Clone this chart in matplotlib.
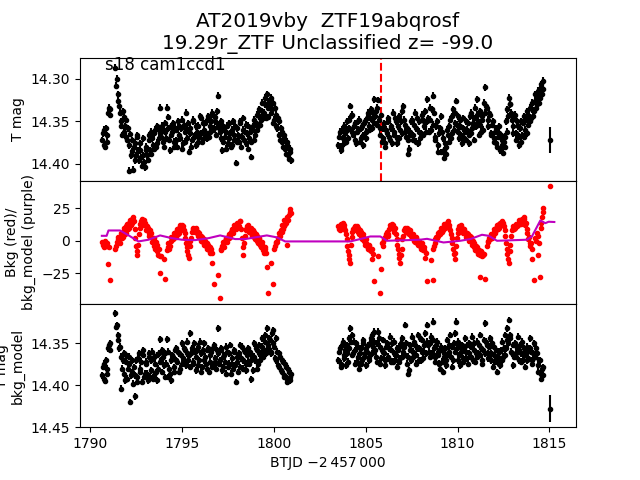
import numpy as np
import matplotlib
matplotlib.use('Agg')
import matplotlib.pyplot as plt

nan = np.nan

# ---- sampling (two TESS orbits; "a" and "b" samples interleaved) ----
CADENCE = 0.08
OFFSET_B = 0.04
seg1_start, seg1_n = 1790.66, 129
seg2_start, seg2_n = 1803.52, 140
last_t = 1815.02

MAG_ZERO = 14.300  # values below are millimag offsets from this

# ---- top panel: T mag (mmag offset from 14.300) ----
top_seg1_a = [
    72, 60, 80, 66, 40, 36, nan, nan, nan, -13,
    0, 18, 40, 55, 38, 62, 48, 72, 108, 65,
    85, 107, 75, 90, 68, 96, 84, 102, 90, 104,
    80, 95, 72, 88, 70, 82, 60, 75, 58, 34,
    68, 55, 80, 62, 34, 45, 84, 66, 52, 74,
    60, 80, 56, 70, 48, 76, 62, 40, 70, 86,
    58, 72, 50, 66, 78, 55, 68, 46, 74, 60,
    52, 70, 44, 62, 50, 40, 58, 45, 38, 20,
    62, 50, 74, 60, 82, 55, 70, 64, 78, 50,
    66, 99, 58, 74, 52, 68, 46, 62, 76, 55,
    70, 92, 60, 48, 66, 42, 56, 36, 48, 28,
    40, 22, 18, 45, 32, 22, 28, 48, 42, 58,
    50, 72, 62, 80, 70, 88, 78, 94, 86]
top_seg1_b = [
    64, 78, 58, 74, 34, 42, nan, nan, nan, 8,
    26, 32, 50, 66, 45, 56, 68, 58, 78, 90,
    72, 80, 96, 66, 84, 76, 92, 70, 98, 84,
    90, 66, 84, 62, 78, 64, 80, 56, 70, 64,
    60, 74, 52, 70, 58, 72, 56, 62, 80, 58,
    72, 50, 66, 58, 82, 54, 74, 60, 52, 64,
    80, 48, 68, 56, 62, 74, 44, 64, 52, 70,
    64, 48, 68, 56, 42, 60, 50, 66, 54, 58,
    70, 84, 56, 68, 62, 76, 52, 80, 60, 72,
    56, 74, 66, 50, 80, 60, 72, 54, 64, 82,
    62, 74, 56, 72, 52, 60, 44, 54, 38, 46,
    30, 46, 34, 26, 40, 36, 52, 34, 56, 46,
    66, 58, 74, 66, 82, 74, 90, 82, 96]
top_seg2_a = [
    78, 62, 84, 70, 55, 74, 60, 48, 32, 42,
    66, 52, 76, 60, 48, 70, 56, 78, 50, 62,
    40, 55, 36, 48, 24, 44, 34, 25, 58, 42,
    70, 52, 80, 64, 46, 72, 56, 40, 66, 50,
    76, 44, 60, 38, 32, 54, 68, 88, 82, 62,
    48, 72, 40, 58, 76, 50, 64, 42, 56, 38,
    24, 46, 34, 60, 20, 40, 68, 50, 78, 58,
    86, 70, 93, 80, 60, 74, 48, 64, 36, 52,
    26, 44, 70, 56, 76, 46, 62, 72, 52, 66,
    40, 58, 46, 34, 24, 50, 38, 62, 44, 28,
    10, 34, 56, 42, 66, 50, 74, 58, 80, 64,
    84, 72, 87, 68, 50, 36, 22, 30, 48, 64,
    42, 72, 56, 78, 50, 66, 44, 60, 38, 54,
    34, 46, 28, 38, 18, 30, 14, 22, 6, 12]
top_seg2_b = [
    68, 80, 60, 76, 64, 50, 70, 58, 44, 62,
    56, 72, 62, 50, 74, 58, 66, 52, 70, 46,
    60, 46, 58, 40, 52, 38, 54, 48, 66, 74,
    58, 76, 60, 50, 68, 58, 76, 62, 46, 70,
    56, 70, 50, 64, 48, 62, 58, 72, 66, 50,
    66, 54, 74, 46, 62, 70, 48, 66, 50, 62,
    50, 62, 48, 36, 54, 72, 56, 86, 64, 44,
    62, 84, 76, 88, 66, 56, 70, 44, 60, 40,
    54, 62, 48, 66, 58, 70, 50, 60, 76, 44,
    64, 52, 72, 56, 42, 66, 54, 48, 60, 40,
    32, 48, 40, 64, 54, 70, 62, 76, 68, 56,
    66, 78, 74, 80, 62, 44, 30, 40, 56, 46,
    64, 50, 68, 58, 74, 52, 68, 48, 64, 44,
    50, 36, 44, 26, 34, 22, 28, 10, 18, 2]
top_last_mag, top_last_err = 14.372, 0.015

# ---- middle panel: background (red) ----
bkg_seg1_a = [
    -1, -5, 0, -4, -18, -30, nan, nan, nan, -6,
    -1, 3, -2, 6, 3, 10, 6, 13, 10, 16,
    14, 18, 9, -4, -11, 5, 13, 17, 12, 14,
    8, 10, 4, 6, -1, 2, -6, -3, -11, -25,
    -12, nan, -14, -29, -7, -2, -4, 3, 1, 6,
    3, 9, 6, 12, 9, 11, 6, -2, -8, -13,
    -4, 7, 10, 7, 9, 4, 6, 0, 3, -3,
    0, -6, -3, -9, -6, -17, -33, nan, nan, -26,
    -44, -7, -3, -5, 2, -1, 5, 3, 9, 6,
    12, 9, 14, 11, 15, 2, -11, 4, 9, 12,
    7, 10, 4, 7, 1, 4, -2, 1, -5, -3,
    -9, -6, -20, -40, nan, -17, -33, -6, -2, -1,
    6, 4, 12, 9, 16, 14, -3, 20, 24]
bkg_seg1_b = [
    -3, -2, -4, -2, -5, nan, nan, nan, nan, -4,
    1, 0, 4, 2, 8, 5, 11, 9, 14, 12,
    17, 15, 2, -8, -3, 10, 15, 14, 16, 11,
    11, 6, 8, 3, 1, -4, -1, -8, -6, -12,
    nan, nan, nan, nan, -5, -6, 0, 2, 4, 3,
    7, 5, 10, 8, 12, 8, 2, -5, -11, 0,
    2, 9, 8, 10, 6, 7, 2, 4, -1, 1,
    -4, -2, -7, -5, -9, nan, nan, nan, nan, nan,
    -6, -4, -1, 0, 1, 3, 2, 7, 8, 10,
    10, 13, 12, 15, 9, -5, -2, 8, 11, 10,
    9, 6, 8, 3, 5, 0, 2, -3, -1, -7,
    -5, -9, nan, nan, nan, nan, nan, -4, -1, 2,
    3, 8, 7, 11, 13, 18, 16, 22, 21]
bkg_seg2_a = [
    11, 8, 13, 14, 10, 5, -4, -11, -17, 3,
    9, 11, 8, 10, 5, 7, 1, 3, -3, -2,
    -6, -4, -8, -14, -31, nan, nan, -12, -40, -22,
    -4, 1, 2, 7, 5, 12, 10, 12, 7, 5,
    -3, -10, -17, -6, 4, 10, 7, 9, 5, 7,
    2, 4, -1, 2, -3, -1, -6, -4, -7, -13,
    -31, nan, nan, -15, -30, -4, 1, 2, 6, 5,
    10, 8, 13, 11, 14, 12, 8, 2, -6, -14,
    -4, 6, 11, 9, 10, 6, 7, 3, 5, 0,
    3, -3, -2, -7, -5, -10, -28, -8, -12, -10,
    -29, -4, 0, 1, 5, 4, 9, 8, 12, 10,
    14, 12, 14, 8, -2, -10, -17, -3, 8, 11,
    10, 13, 12, 16, 13, 17, 18, 12, 6, 1,
    -4, -2, -14, -30, 2, 6, -11, -28, 14, 22]
bkg_seg2_b = [
    9, 12, 11, 12, 8, 1, -8, -14, -3, 7,
    10, 9, 11, 7, 8, 4, 5, 0, 1, -4,
    -3, -7, -6, -10, nan, nan, nan, nan, nan, -2,
    -1, 3, 5, 4, 9, 11, 13, 9, 10, 1,
    -6, -13, -11, 1, 8, 8, 10, 6, 8, 4,
    5, 0, 3, -2, 0, -4, -2, -7, -5, -9,
    nan, nan, nan, nan, -6, -2, 3, 4, 7, 8,
    7, 11, 10, 13, 15, 10, 5, -2, -10, -9,
    2, 9, 10, 12, 8, 9, 5, 6, 2, 4,
    1, 0, -5, -4, -8, -7, -11, -9, -11, nan,
    nan, -1, 2, 4, 2, 7, 6, 10, 9, 13,
    12, 15, 11, 4, -6, -14, -8, 4, 10, 9,
    12, 11, 14, 15, 16, 15, 17, 14, 9, 3,
    -2, -6, nan, nan, 0, 4, -2, 10, 18, 25]
bkg_last = 42

# ---- middle panel: background model (purple) ----
model_t = [1790.64, 1790.90, 1791.00, 1791.63, 1792.10, 1792.63, 1793.18, 1793.81,
           1794.45, 1795.00, 1795.72, 1796.45, 1797.08, 1797.90, 1798.44, 1799.62,
           1800.17, 1800.62, 1801.17, 1803.07, 1804.16, 1804.70, 1805.25, 1805.80,
           1806.16, 1807.97, 1808.34, 1809.24, 1810.15, 1810.70, 1811.33, 1811.70,
           1812.15, 1813.78, 1814.05, 1814.51, 1814.78, 1814.96, 1815.27]
model_v = [3.8, 3.8, 7.9, 7.9, 4.1, -0.5, 0.8, 4.1,
           2.0, 0.8, 0.5, 2.0, 4.1, 1.3, 1.3, 4.1,
           2.6, -0.5, -0.5, -0.5, -0.5, 1.3, 3.3, 3.3,
           0.0, 0.8, 1.5, -1.3, 0.0, 1.3, 4.6, 3.8,
           0.0, 0.8, 3.3, 15.6, 13.5, 14.6, 14.4]

# ---- bottom panel: T mag - bkg_model (mmag offset from 14.300) ----
bot_seg1_a = [
    88, 74, 95, 80, 56, 50, nan, nan, nan, 14,
    28, 40, 54, 104, 70, 86, 64, 92, 75, 120,
    84, 98, 113, 70, 90, 62, 80, 96, 58, 86,
    72, 94, 66, 82, 60, 88, 74, 64, 80, 45,
    70, 58, 76, 62, 45, 90, 86, 94, 66, 78,
    56, 72, 62, 80, 50, 68, 58, 76, 48, 64,
    38, 56, 72, 60, 82, 54, 70, 62, 78, 50,
    66, 80, 56, 72, 60, 76, 52, 68, 58, 32,
    70, 56, 78, 64, 86, 60, 74, 52, 68, 80,
    58, 96, 72, 62, 78, 54, 70, 60, 82, 56,
    74, 93, 64, 50, 70, 58, 74, 52, 62, 44,
    58, 40, 32, 56, 46, 62, 34, 54, 70, 60,
    78, 66, 84, 72, 90, 78, 96, 84, 90]
bot_seg1_b = [
    78, 92, 70, 86, 52, 58, nan, nan, nan, 30,
    46, 56, 66, 80, 62, 94, 72, 80, 66, 88,
    70, 78, 88, 96, 68, 84, 72, 64, 90, 74,
    86, 62, 90, 70, 92, 66, 84, 94, 62, 72,
    84, 66, 90, 74, 60, 80, 70, 64, 84, 58,
    70, 60, 84, 64, 74, 56, 72, 62, 70, 78,
    62, 74, 50, 66, 58, 76, 48, 84, 58, 70,
    74, 58, 84, 64, 78, 56, 72, 80, 62, 74,
    58, 82, 66, 72, 54, 78, 62, 86, 74, 60,
    76, 66, 84, 52, 68, 80, 58, 74, 64, 72,
    60, 70, 82, 66, 56, 80, 62, 70, 54, 66,
    48, 62, 52, 44, 60, 38, 50, 68, 44, 76,
    62, 82, 70, 88, 74, 92, 80, 94, 86]
bot_seg2_a = [
    70, 56, 78, 48, 64, 76, 52, 44, 32, 40,
    62, 74, 50, 66, 80, 56, 70, 46, 62, 76,
    52, 66, 44, 40, 36, 58, 72, 36, 54, 68,
    46, 62, 76, 50, 66, 42, 58, 72, 48, 64,
    78, 54, 68, 44, 60, 28, 50, 86, 82, 58,
    42, 66, 52, 74, 40, 56, 70, 46, 60, 38,
    28, 52, 66, 42, 24, 56, 72, 48, 64, 80,
    54, 84, 66, 76, 46, 60, 40, 54, 70, 38,
    24, 48, 64, 76, 52, 68, 44, 60, 74, 50,
    66, 42, 58, 72, 48, 62, 40, 56, 70, 46,
    26, 52, 68, 44, 62, 78, 54, 70, 84, 60,
    76, 48, 66, 40, 56, 32, 22, 44, 62, 76,
    50, 66, 42, 58, 72, 48, 64, 78, 54, 68,
    44, 60, 74, 50, 66, 62, 84, 70, 92, 78]
bot_seg2_b = [
    60, 74, 52, 68, 58, 62, 72, 56, 48, 64,
    48, 58, 72, 54, 62, 74, 50, 66, 56, 60,
    70, 50, 62, 54, 48, 66, 50, 44, 74, 58,
    60, 70, 54, 68, 56, 72, 50, 62, 70, 56,
    58, 72, 50, 66, 54, 64, 74, 66, 52, 70,
    60, 48, 64, 56, 70, 44, 60, 68, 52, 62,
    48, 60, 50, 62, 46, 66, 52, 60, 74, 58,
    72, 62, 56, 70, 64, 52, 66, 78, 50, 60,
    56, 70, 52, 60, 72, 56, 68, 52, 62, 66,
    54, 70, 50, 62, 66, 52, 64, 74, 58, 62,
    48, 62, 54, 70, 50, 64, 72, 58, 66, 74,
    58, 70, 56, 64, 46, 50, 40, 60, 52, 66,
    62, 56, 70, 52, 62, 70, 56, 62, 70, 58,
    56, 70, 62, 66, 56, 76, 70, 86, 80, 88]
bot_last_mag, bot_last_err = 14.428, 0.016

typical_err = 0.004
discovery_t = 1805.83

title = "AT2019vby  ZTF19abqrosf\n19.29r_ZTF Unclassified z= -99.0"
sector_label = "s18 cam1ccd1"

# ---- assemble ----
t1a = seg1_start + CADENCE * np.arange(seg1_n)
t2a = seg2_start + CADENCE * np.arange(seg2_n)
t = np.concatenate([t1a, t1a + OFFSET_B, t2a, t2a + OFFSET_B, [last_t]])


def to_mag(*parts):
    return MAG_ZERO + np.concatenate([np.array(p, dtype=float) for p in parts]) / 1000.0


top_mag = np.concatenate([to_mag(top_seg1_a, top_seg1_b, top_seg2_a, top_seg2_b), [top_last_mag]])
bot_mag = np.concatenate([to_mag(bot_seg1_a, bot_seg1_b, bot_seg2_a, bot_seg2_b), [bot_last_mag]])
bkg = np.concatenate([bkg_seg1_a, bkg_seg1_b, bkg_seg2_a, bkg_seg2_b, [bkg_last]]).astype(float)
top_err = np.full(t.size, typical_err); top_err[-1] = top_last_err
bot_err = np.full(t.size, typical_err); bot_err[-1] = bot_last_err

fig, axs = plt.subplots(3, 1, sharex=True, figsize=(6.4, 4.8), dpi=100)
fig.subplots_adjust(hspace=0)

ax = axs[0]
ax.errorbar(t, top_mag, yerr=top_err, fmt='k.')
ax.axvline(discovery_t, color='r', ls='--')
ax.set_ylim(14.42, 14.275)
ax.set_yticks([14.30, 14.35, 14.40])
ax.set_ylabel("T mag")
ax.set_title(title, fontsize=14.4)
ax.text(0.05, 0.9, sector_label, transform=ax.transAxes, fontsize=12)

ax = axs[1]
ax.plot(t, bkg, 'r.')
ax.plot(model_t, model_v, color='m', lw=1.5)
ax.set_ylim(-48.5, 46)
ax.set_yticks([-25, 0, 25])
ax.set_ylabel("Bkg (red)/\nbkg_model (purple)")

ax = axs[2]
ax.errorbar(t, bot_mag, yerr=bot_err, fmt='k.')
ax.set_ylim(14.45, 14.303)
ax.set_yticks([14.35, 14.40, 14.45])
ax.set_ylabel("T mag\nbkg_model")
ax.set_xlim(1789.45, 1816.45)
ax.set_xticks([1790, 1795, 1800, 1805, 1810, 1815])
ax.set_xlabel("BTJD \u22122\u2009457\u2009000")

fig.savefig("out.png", dpi=100)
